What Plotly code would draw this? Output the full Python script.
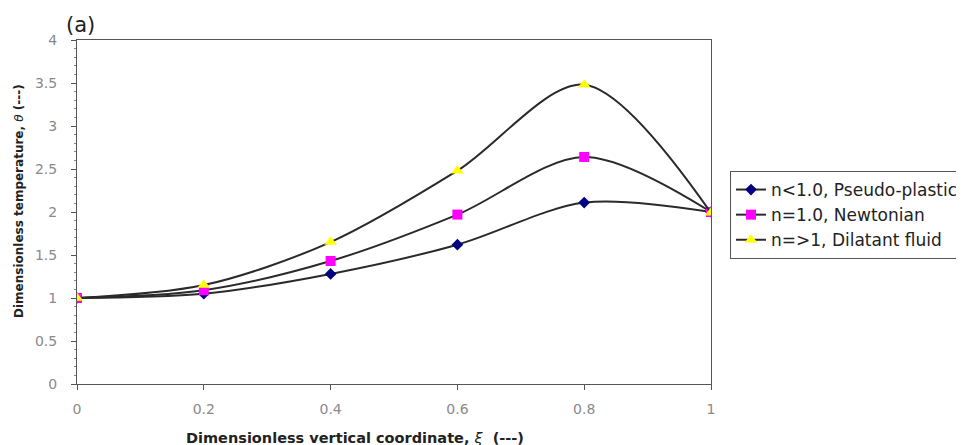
import plotly.graph_objects as go

xi = [0, 0.2, 0.4, 0.6, 0.8, 1.0]
pseudo = [1.0, 1.05, 1.28, 1.62, 2.11, 2.0]
newton = [1.0, 1.09, 1.43, 1.97, 2.64, 2.0]
dilat = [1.0, 1.15, 1.65, 2.48, 3.48, 1.99]
names = ["n<1.0, Pseudo-plastic", "n=1.0, Newtonian", "n=>1, Dilatant fluid"]
x_ticks = [0, 0.2, 0.4, 0.6, 0.8, 1]
x_tick_text = ["0", "0.2", "0.4", "0.6", "0.8", "1"]
y_ticks = [0, 0.5, 1, 1.5, 2, 2.5, 3, 3.5, 4]

W, H = 956, 437
L, T = 69, 32
PW, PH = 634, 344
WIDE = "DejaVu Sans, Verdana, sans-serif"

fig = go.Figure()
styles = [
    (pseudo, dict(symbol="diamond", color="#000080", size=9)),
    (newton, dict(symbol="square", color="#FF00FF", size=10)),
    (dilat, dict(symbol="triangle-up", color="#FFFF00", size=11)),
]
for i, ((ys, mk), nm) in enumerate(zip(styles, names)):
    fig.add_trace(go.Scatter(
        x=xi, y=ys, name=nm, mode="lines+markers", legendgroup=f"g{i}",
        line=dict(color="#2a2a2a", width=2, shape="spline", smoothing=0.9),
        marker=mk,
    ))

axis_common = dict(showgrid=False, zeroline=False, showline=True, linecolor="#555555",
                   linewidth=1, mirror=True, ticks="outside", ticklen=5,
                   tickcolor="#555555",
                   tickfont=dict(family=WIDE, size=14, color="#8a8a8a"))
fig.update_xaxes(range=[0, 1], tickvals=x_ticks, ticktext=x_tick_text, ticklabelstandoff=7,
                 **axis_common)
fig.update_yaxes(range=[0, 4], tickvals=y_ticks, ticklabelstandoff=11,
                 minor=dict(ticks="outside", ticklen=2, dtick=0.1, tickcolor="#888888"),
                 **axis_common)

def px_x(xf):
    return (xf - L) / PW

def px_y(yf):
    return (T + PH - yf) / PH

fig.update_layout(
    width=W, height=H,
    margin=dict(l=L, r=W - L - PW, t=T, b=H - T - PH, autoexpand=False),
    plot_bgcolor="white", paper_bgcolor="white",
    font=dict(family=WIDE, size=13, color="#222222"),
    legend=dict(x=px_x(722), y=px_y(163), xanchor="left", yanchor="top",
                bordercolor="#555555", borderwidth=1, bgcolor="white",
                font=dict(family=WIDE, size=17, color="#222222"), itemwidth=30, tracegroupgap=0),
    annotations=[
        dict(text="(a)", x=px_x(56), y=px_y(17), xref="paper", yref="paper", showarrow=False,
             xanchor="left", yanchor="middle", font=dict(family=WIDE, size=21, color="#222222")),
        dict(text="<b>Dimensionless vertical coordinate, </b><i>ξ</i><b>  (---)</b>",
             x=px_x(347), y=px_y(430), xref="paper", yref="paper", showarrow=False,
             xanchor="center", yanchor="middle", font=dict(family=WIDE, size=14.5, color="#222222")),
        dict(text="<b>Dimensionless temperature, </b><i>θ</i><b> (---)</b>",
             x=px_x(11), y=px_y(193), xref="paper", yref="paper", showarrow=False,
             xanchor="center", yanchor="middle", textangle=-90,
             font=dict(family=WIDE, size=12, color="#222222")),
    ],
)
fig.write_html("out.html")
